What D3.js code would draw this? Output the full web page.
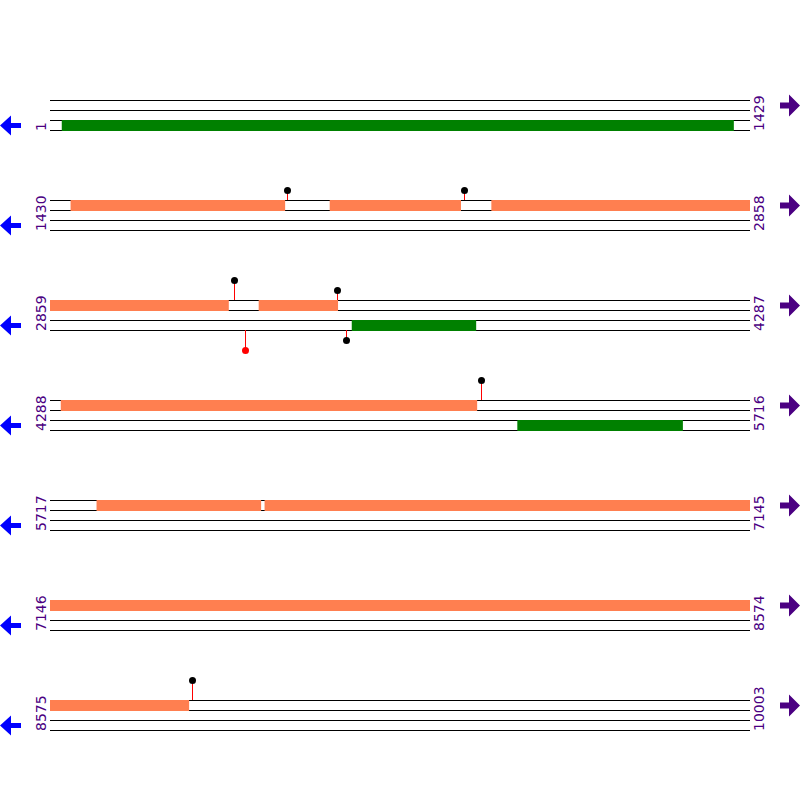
<!DOCTYPE html>
<html><head><meta charset="utf-8">
<script src="https://cdn.jsdelivr.net/npm/d3@7"></script>
<style>html,body{margin:0;padding:0;background:#fff;}svg{display:block;}</style>
</head><body>
<script>
// Row ranges (bp)
const rowStarts = [1, 1430, 2859, 4288, 5717, 7146, 8575];
const rowEnds   = [1429, 2858, 4287, 5716, 7145, 8574, 10003];
// Forward-strand features (coral)
const forwardStarts = [1472, 2001, 2331, 3285, 4310, 5812, 6155];
const forwardEnds   = [1909, 2268, 3223, 3446, 5159, 6147, 8858];
// Reverse-strand features (green)
const reverseStarts = [25, 3475, 5242];
const reverseEnds   = [1396, 3728, 5579];
// Lollipop sites
const sitePos    = [1913, 2275, 3234, 3443, 3257, 3463, 5167, 8864];
const siteStrand = ["+", "+", "+", "+", "-", "-", "+", "+"];
const siteLevel  = [1, 1, 2, 1, 2, 1, 2, 2];
const siteColor  = ["black", "black", "black", "black", "red", "black", "black", "black"];

const W = 800, H = 800;
const svg = d3.select("body").append("svg").attr("width", W).attr("height", H);

const rowY = d3.scaleLinear().domain([0, 6]).range([100, 700]);
const purple = "#4B0082";

rowStarts.forEach((start, i) => {
  const end = rowEnds[i];
  const y0 = rowY(i);
  const x = d3.scaleLinear().domain([start - 1, end]).range([50, 750]);
  const g = svg.append("g");

  // track lines
  [0, 10, 20, 30].forEach(dy => {
    g.append("line").attr("x1", 50).attr("x2", 750)
      .attr("y1", y0 + dy + 0.5).attr("y2", y0 + dy + 0.5)
      .attr("stroke", "black").attr("stroke-width", 1);
  });

  function drawFeatures(starts, ends, ty, color) {
    starts.forEach((s, k) => {
      const a = Math.max(s - 1, start - 1), b = Math.min(ends[k], end);
      if (a < b) {
        g.append("rect").attr("x", x(a)).attr("y", ty)
          .attr("width", x(b) - x(a)).attr("height", 11)
          .attr("fill", color);
      }
    });
  }
  drawFeatures(forwardStarts, forwardEnds, y0, "#FF7F50");
  drawFeatures(reverseStarts, reverseEnds, y0 + 20, "#008000");

  // lollipops
  sitePos.forEach((p, k) => {
    if (p < start || p > end) return;
    const px = Math.round(x(p)) + 0.5;
    const len = siteLevel[k] * 10;
    let ya, yb;
    if (siteStrand[k] === "+") { ya = y0; yb = y0 - len; }
    else { ya = y0 + 30; yb = y0 + 30 + len; }
    g.append("line").attr("x1", px).attr("x2", px).attr("y1", ya).attr("y2", yb)
      .attr("stroke", "red").attr("stroke-width", 1);
    g.append("circle").attr("cx", px).attr("cy", yb + 0.5).attr("r", 3.5)
      .attr("fill", siteColor[k]);
  });

  // labels
  g.append("text").attr("transform", `translate(46,${y0 + 31}) rotate(-90)`)
    .attr("font-family", "DejaVu Sans, sans-serif").attr("font-size", 14)
    .attr("fill", purple).text(start);
  g.append("text").attr("transform", `translate(764,${y0 + 31}) rotate(-90)`)
    .attr("font-family", "DejaVu Sans, sans-serif").attr("font-size", 14)
    .attr("fill", purple).text(end);

  // left (reverse) arrow
  const cl = y0 + 25.5;
  g.append("path").attr("d",
    `M0,${cl} L11,${cl - 10} L11,${cl - 2.5} L21,${cl - 2.5} L21,${cl + 2.5} L11,${cl + 2.5} L11,${cl + 10} Z`)
    .attr("fill", "#0000FF");
  // right (forward) arrow
  const cr = y0 + 5.5;
  g.append("path").attr("d",
    `M800,${cr} L789,${cr - 11} L789,${cr - 3} L780,${cr - 3} L780,${cr + 3} L789,${cr + 3} L789,${cr + 11} Z`)
    .attr("fill", purple);
});
</script>
</body></html>
